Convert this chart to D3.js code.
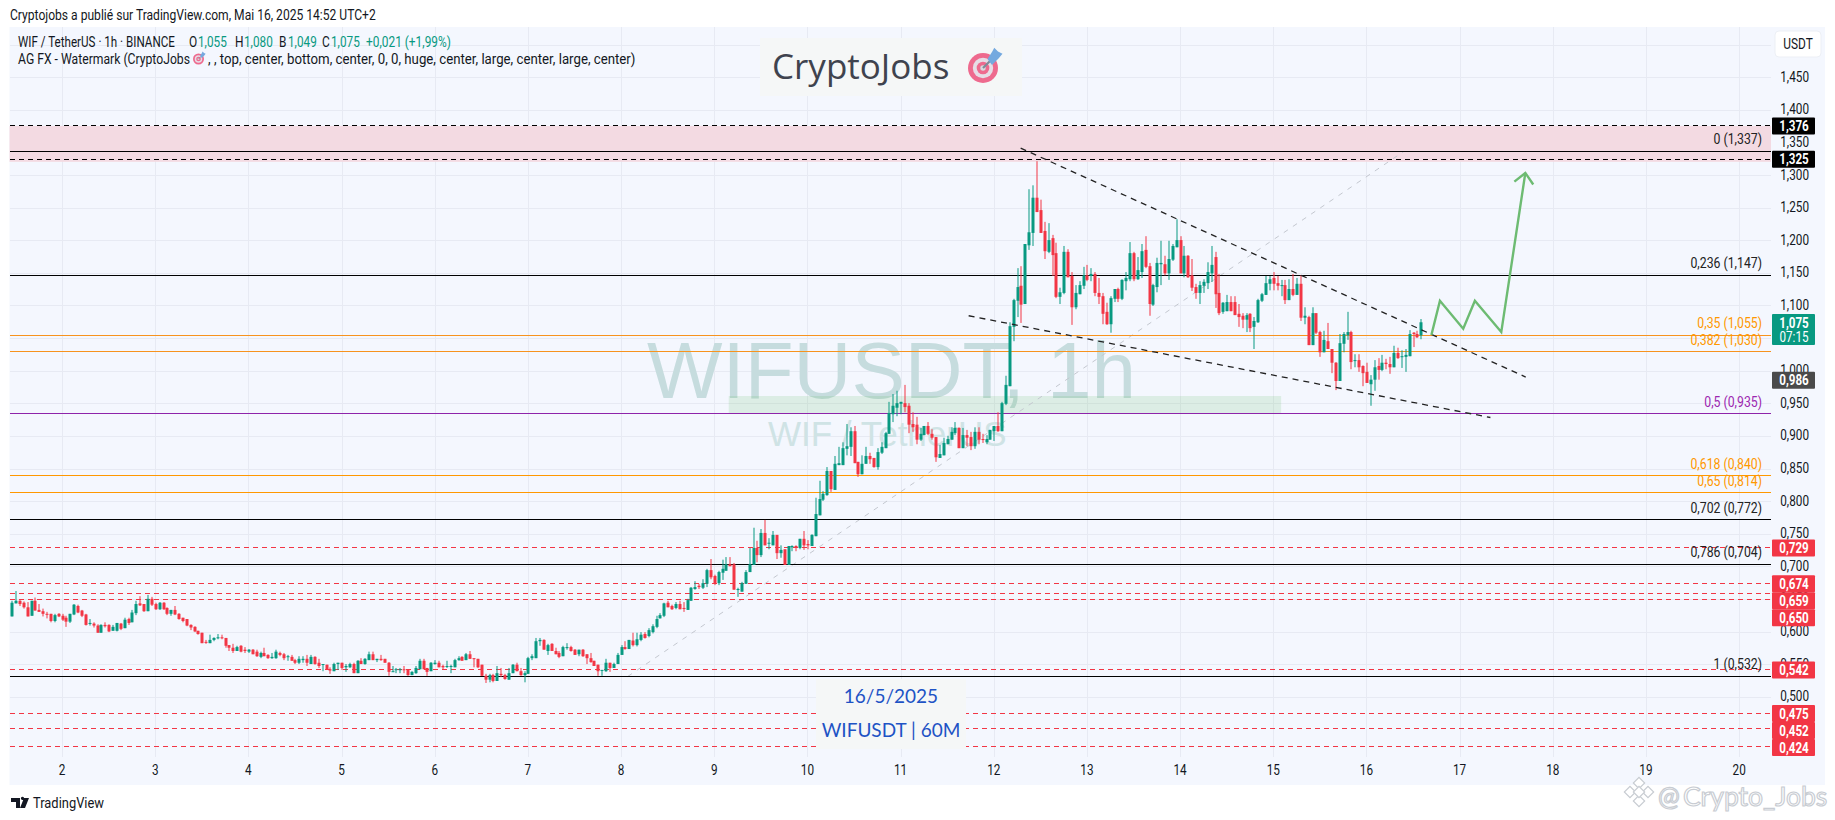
<!DOCTYPE html>
<html>
<head>
<meta charset="utf-8">
<style>
  html, body { margin: 0; padding: 0; background: #fff; }
  svg { display: block; }
  text { font-family: Roboto, sans-serif; }
</style>
<script src="https://cdn.jsdelivr.net/npm/d3@7"></script>
</head>
<body>
<svg id="chart" width="1835" height="820"></svg>
<script>
// One candle per hour, the first bar is index 0 (1 May 11:00)
const opens = [
.624,.644,.648,.645,.638,.625,.648,.634,.632,.628,
.628,.617,.628,.625,.622,.616,.627,.640,.633,.627,
.613,.613,.610,.599,.611,.611,.602,.602,.613,.606,
.620,.615,.629,.644,.643,.632,.651,.643,.635,.645,
.637,.628,.634,.628,.622,.620,.611,.608,.602,.599,
.585,.583,.588,.591,.592,.591,.580,.576,.571,.579,
.573,.570,.573,.570,.562,.568,.565,.560,.560,.568,
.566,.562,.562,.557,.553,.557,.559,.551,.562,.553,
.550,.550,.543,.540,.551,.553,.546,.546,.551,.537,
.556,.551,.557,.566,.557,.559,.559,.553,.539,.542,
.542,.543,.542,.534,.537,.543,.556,.545,.540,.551,
.553,.548,.547,.547,.546,.557,.562,.557,.566,.560,
.559,.550,.533,.527,.534,.525,.536,.534,.527,.537,
.550,.540,.534,.536,.560,.560,.586,.588,.571,.582,
.571,.568,.563,.576,.577,.573,.566,.573,.566,.560,
.556,.550,.541,.540,.553,.545,.551,.565,.577,.574,
.587,.580,.588,.597,.594,.600,.608,.621,.625,.645,
.640,.637,.643,.637,.634,.648,.666,.671,.668,.674,
.695,.686,.675,.691,.694,.704,.704,.665,.662,.674,
.692,.703,.729,.718,.752,.736,.733,.749,.721,.727,
.703,.730,.732,.729,.743,.735,.732,.747,.779,.803,
.810,.847,.818,.856,.856,.881,.884,.908,.861,.842,
.858,.870,.867,.853,.875,.882,.904,.934,.944,.950,
.951,.947,.919,.918,.895,.902,.916,.904,.899,.867,
.871,.888,.895,.905,.913,.882,.902,.899,.885,.907,
.896,.891,.895,.908,.916,.908,.950,.977,1.068,1.108,
1.131,1.103,1.193,1.212,1.266,1.247,1.215,1.183,1.204,1.181,
1.114,1.120,1.183,1.146,1.098,1.118,1.131,1.147,1.146,1.149,
1.120,1.115,1.091,1.072,1.111,1.126,1.111,1.138,1.141,1.181,
1.141,1.152,1.186,1.161,1.102,1.129,1.164,1.164,1.150,1.171,
1.190,1.201,1.150,1.177,1.147,1.129,1.120,1.131,1.135,1.150,
1.175,1.120,1.091,1.092,1.106,1.106,1.088,1.085,1.079,1.088,
1.068,1.075,1.108,1.117,1.134,1.143,1.135,1.131,1.132,1.109,
1.126,1.117,1.134,1.082,1.083,1.040,1.089,1.060,1.029,1.046,
1.034,1.013,.985,1.042,1.055,1.060,1.016,1.017,1.008,.999,
.980,.987,1.008,1.002,1.013,1.011,1.006,1.028,1.022,1.022,
1.023,1.059,1.057,1.055
];
const highs = [
.648,.663,.649,.647,.646,.648,.653,.643,.636,.631,
.628,.628,.629,.628,.625,.628,.643,.642,.634,.628,
.620,.615,.612,.612,.615,.612,.611,.614,.614,.622,
.622,.634,.648,.655,.643,.657,.654,.645,.646,.646,
.638,.634,.640,.629,.622,.620,.612,.609,.602,.599,
.588,.596,.592,.597,.596,.591,.580,.582,.579,.580,
.577,.574,.574,.573,.570,.576,.566,.568,.573,.570,
.568,.565,.565,.559,.563,.563,.565,.565,.563,.559,
.551,.550,.546,.553,.553,.553,.551,.553,.553,.557,
.560,.560,.570,.570,.559,.565,.559,.554,.548,.545,
.545,.548,.543,.540,.548,.559,.559,.545,.554,.557,
.556,.550,.556,.550,.559,.563,.563,.568,.571,.560,
.559,.550,.536,.536,.536,.548,.545,.536,.545,.551,
.553,.545,.540,.562,.566,.591,.591,.589,.582,.583,
.576,.571,.579,.583,.579,.574,.573,.574,.566,.568,
.556,.550,.542,.559,.553,.553,.568,.580,.586,.588,
.599,.599,.600,.600,.606,.612,.625,.629,.645,.648,
.642,.646,.648,.646,.651,.669,.678,.674,.681,.697,
.712,.688,.694,.711,.715,.715,.706,.668,.677,.695,
.729,.760,.740,.758,.772,.744,.755,.749,.733,.727,
.732,.733,.733,.743,.755,.741,.750,.806,.832,.816,
.853,.847,.870,.884,.891,.919,.914,.916,.861,.871,
.884,.875,.867,.882,.891,.907,.953,.965,.970,.953,
.979,.951,.937,.930,.913,.916,.922,.911,.899,.887,
.898,.901,.914,.922,.914,.913,.910,.907,.914,.914,
.904,.902,.910,.916,.937,.953,.993,1.075,1.111,1.158,
1.161,1.195,1.279,1.285,1.322,1.263,1.229,1.227,1.209,1.197,
1.128,1.192,1.187,1.152,1.132,1.138,1.160,1.163,1.158,1.152,
1.143,1.120,1.105,1.115,1.126,1.128,1.141,1.152,1.198,1.183,
1.175,1.195,1.207,1.166,1.134,1.174,1.200,1.177,1.200,1.195,
1.233,1.207,1.192,1.178,1.172,1.134,1.138,1.141,1.167,1.192,
1.183,1.149,1.106,1.117,1.115,1.115,1.103,1.089,1.089,1.089,
1.083,1.111,1.120,1.146,1.146,1.152,1.146,1.140,1.140,1.141,
1.149,1.143,1.147,1.098,1.085,1.098,1.089,1.062,1.062,1.074,
1.034,1.014,1.057,1.060,1.091,1.062,1.026,1.026,1.009,1.013,
.994,1.017,1.020,1.025,1.019,1.022,1.039,1.036,1.032,1.034,
1.063,1.060,1.062,1.080
];
const lows = [
.624,.644,.640,.636,.624,.625,.633,.631,.624,.621,
.615,.615,.623,.617,.608,.614,.626,.629,.623,.610,
.610,.607,.599,.599,.607,.600,.602,.601,.603,.606,
.611,.615,.626,.640,.631,.632,.640,.634,.634,.634,
.626,.625,.626,.619,.615,.609,.603,.600,.596,.583,
.582,.583,.586,.589,.589,.576,.571,.568,.571,.569,
.568,.568,.566,.562,.560,.563,.559,.559,.559,.563,
.557,.556,.556,.551,.551,.553,.548,.551,.550,.545,
.540,.542,.536,.540,.542,.542,.539,.545,.537,.537,
.551,.550,.557,.557,.554,.556,.553,.533,.539,.537,
.537,.537,.533,.534,.536,.543,.543,.533,.540,.550,
.546,.543,.545,.537,.546,.556,.556,.557,.559,.546,
.545,.533,.522,.523,.523,.525,.531,.527,.527,.537,
.540,.533,.523,.536,.557,.560,.579,.573,.565,.571,
.566,.560,.563,.573,.570,.565,.563,.562,.551,.553,
.548,.533,.533,.539,.539,.545,.551,.565,.573,.574,
.578,.578,.586,.590,.592,.598,.606,.621,.623,.638,
.634,.635,.635,.631,.634,.648,.665,.666,.666,.669,
.681,.672,.672,.680,.694,.701,.665,.654,.662,.674,
.692,.703,.707,.715,.733,.727,.733,.712,.714,.703,
.703,.724,.724,.727,.726,.727,.732,.747,.779,.801,
.809,.815,.818,.856,.856,.871,.870,.859,.838,.842,
.858,.858,.852,.849,.873,.882,.904,.922,.931,.934,
.937,.905,.907,.888,.893,.902,.902,.895,.861,.867,
.871,.888,.895,.902,.882,.882,.885,.879,.881,.888,
.890,.888,.895,.893,.907,.908,.948,.977,1.046,1.083,
1.074,1.103,1.186,1.192,1.244,1.212,1.172,1.181,1.146,1.112,
1.103,1.118,1.144,1.071,1.095,1.118,1.126,1.138,1.138,1.115,
1.103,1.072,1.071,1.059,1.106,1.106,1.109,1.124,1.138,1.138,
1.140,1.143,1.158,1.085,1.100,1.121,1.132,1.147,1.140,1.169,
1.190,1.150,1.144,1.143,1.123,1.111,1.103,1.120,1.126,1.137,
1.097,1.086,1.088,1.092,1.092,1.086,1.068,1.066,1.060,1.060,
1.034,1.074,1.106,1.117,1.124,1.124,1.124,1.115,1.103,1.109,
1.115,1.117,1.077,1.072,1.040,1.040,1.057,1.022,1.029,1.034,
.997,.971,.985,1.029,1.048,1.003,1.006,.999,.977,.982,
.947,.970,.987,1.000,1.003,.996,1.006,1.019,1.005,.999,
1.023,1.037,1.051,1.049
];
const closes = [
.645,.648,.643,.638,.624,.648,.633,.631,.628,.627,
.617,.626,.624,.619,.616,.628,.642,.630,.625,.611,
.614,.610,.599,.611,.609,.601,.608,.614,.605,.619,
.614,.630,.643,.641,.632,.651,.642,.635,.645,.635,
.628,.634,.627,.620,.617,.610,.607,.601,.597,.583,
.584,.588,.591,.592,.591,.579,.576,.571,.577,.570,
.571,.573,.566,.563,.568,.563,.560,.562,.570,.565,
.560,.563,.556,.553,.559,.559,.553,.562,.551,.548,
.551,.542,.541,.551,.553,.545,.548,.551,.537,.556,
.551,.559,.566,.557,.559,.557,.553,.539,.540,.543,
.543,.542,.534,.539,.545,.556,.543,.539,.553,.553,
.546,.546,.548,.548,.557,.560,.556,.566,.559,.559,
.546,.533,.527,.534,.525,.537,.534,.528,.537,.550,
.540,.534,.537,.560,.563,.586,.588,.573,.580,.571,
.566,.562,.577,.577,.571,.565,.573,.563,.560,.554,
.548,.540,.542,.553,.545,.551,.565,.577,.574,.588,
.580,.589,.596,.591,.603,.609,.620,.626,.644,.638,
.635,.643,.635,.636,.649,.668,.669,.669,.675,.695,
.684,.675,.692,.697,.704,.701,.665,.666,.675,.692,
.704,.729,.718,.752,.733,.737,.749,.721,.726,.703,
.732,.732,.730,.743,.733,.733,.749,.781,.804,.812,
.847,.819,.858,.859,.882,.885,.908,.859,.842,.858,
.870,.865,.853,.876,.884,.905,.936,.947,.951,.953,
.945,.918,.914,.895,.904,.916,.904,.898,.868,.873,
.890,.896,.907,.913,.882,.902,.898,.885,.907,.895,
.895,.896,.910,.916,.908,.951,.979,1.069,1.109,1.129,
1.102,1.195,1.213,1.266,1.244,1.212,1.184,1.201,1.178,1.114,
1.121,1.183,1.144,1.098,1.120,1.132,1.147,1.140,1.149,1.120,
1.114,1.088,1.072,1.112,1.126,1.111,1.140,1.143,1.181,1.141,
1.155,1.184,1.160,1.103,1.132,1.166,1.166,1.150,1.172,1.192,
1.201,1.150,1.177,1.144,1.128,1.120,1.132,1.137,1.152,1.163,
1.118,1.089,1.105,1.106,1.092,1.086,1.083,1.079,1.086,1.066,
1.077,1.109,1.118,1.135,1.141,1.134,1.131,1.132,1.109,1.126,
1.117,1.134,1.082,1.085,1.040,1.089,1.059,1.029,1.048,1.034,
1.013,.985,1.043,1.057,1.060,1.014,1.017,1.006,.997,.982,
.987,1.006,1.002,1.013,1.011,1.006,1.028,1.020,1.023,1.025,
1.057,1.057,1.052,1.075
];

const firstBarHour = 11;               // hours after 1 May 00:00
const dayNumbers = [2,3,4,5,6,7,8,9,10,11,12,13,14,15,16,17,18,19,20];
const priceTicks = [1.45,1.40,1.35,1.30,1.25,1.20,1.15,1.10,1.05,1.00,.95,.90,.85,.80,.75,.70,.65,.60,.55,.50];
const gridPrices = [1.50].concat(priceTicks);

// Fibonacci retracement levels
const fibRatios = ["0","0,236","0,35","0,382","0,5","0,618","0,65","0,702","0,786","1"];
const fibPrices = [1.337,1.147,1.055,1.030,.935,.840,.814,.772,.704,.532];
const fibColors = ["#000","#000","#f7931e","#f7931e","#8e24aa","#ff9800","#ff9800","#000","#000","#000"];
const fibTextColors = ["#222","#222","#ff9800","#ff9800","#9c27b0","#ff9800","#ff9800","#222","#222","#222"];

// Horizontal rays with a label on the price axis
const blackLevels = [1.376,1.325];
const redLevels = [.729,.674,.659,.650,.542,.475,.452,.424];

// Drawings, in bar index and price
const zonePrices = [1.376,1.321];
const supportZonePrices = [.962,.935];
const supportZoneBars = [184.6,326.9];
const fibLineBars = [158.6,358.5];
const fibLinePrices = [.532,1.337];
const upperWedgeBars = [259.8,389.9];
const upperWedgePrices = [1.342,.991];
const lowerWedgeBars = [246.4,380.8];
const lowerWedgePrices = [1.085,.929];
const projectionBars = [365.6,367.8,373.8,376.8,383.6,389.8];
const projectionPrices = [1.0555,1.108,1.065,1.108,1.060,1.304];

const plot = { left: 9.5, right: 1771, top: 27, bottom: 757, panelRight: 1825, panelBottom: 785 };
const green = "#089981", red = "#f23645", ink = "#131722";
const small = "14px";

const svg = d3.select("#chart");

// 93.17 px per day, the last bar sits near 1421
const x = d3.scaleLinear().domain([0, 363]).range([12.1, 1421.3]);
const y = d3.scaleLinear().domain([.5, 1.45]).range([697.3, 77.7]);
const dayToBar = d => (d - 1) * 24 - firstBarHour;
const comma = d => d3.format(".3f")(d).replace(".", ",");

// The original font is tall and narrow, squeeze the glyphs sideways
function squeeze(selection, k) {
    selection.each(function () {
        this.setAttribute("textLength", this.getComputedTextLength() * k);
        this.setAttribute("lengthAdjust", "spacingAndGlyphs");
    });
    return selection;
}

// Small text helper
function label(str, px, py, fill, k) {
    return squeeze(svg.append("text").text(str)
        .attr("x", px).attr("y", py)
        .style("font-size", small).attr("fill", fill), k);
}

// Panel
svg.append("rect")
    .attr("x", plot.left).attr("y", plot.top)
    .attr("width", plot.panelRight - plot.left).attr("height", plot.panelBottom - plot.top)
    .attr("fill", "#f4f7fe");

// Grid
svg.append("g").attr("shape-rendering", "crispEdges").selectAll("line").data(gridPrices).enter().append("line")
    .attr("x1", plot.left).attr("x2", plot.right)
    .attr("y1", d => y(d)).attr("y2", d => y(d))
    .attr("stroke", "#e7eaf3").attr("stroke-width", 1);
svg.append("g").attr("shape-rendering", "crispEdges").selectAll("line").data(dayNumbers).enter().append("line")
    .attr("x1", d => x(dayToBar(d))).attr("x2", d => x(dayToBar(d)))
    .attr("y1", plot.top).attr("y2", plot.bottom)
    .attr("stroke", "#e7eaf3").attr("stroke-width", 1);

// Watermarks behind the candles
svg.append("text").text("WIFUSDT, 1h")
    .attr("x", 647).attr("y", 398)
    .style("font-family", "'Liberation Sans', Arial, sans-serif")
    .style("font-size", "80px").attr("fill", "#c6dcde");
svg.append("text").text("WIF / TetherUS")
    .attr("x", 768).attr("y", 446)
    .style("font-family", "'Liberation Sans', Arial, sans-serif")
    .style("font-size", "35px").attr("fill", "#cfe3e5");

// Zones
svg.append("rect")
    .attr("x", plot.left).attr("width", plot.right - plot.left)
    .attr("y", y(zonePrices[0])).attr("height", y(zonePrices[1]) - y(zonePrices[0]))
    .attr("fill", "#f3dae2");
svg.append("rect")
    .attr("x", x(supportZoneBars[0])).attr("width", x(supportZoneBars[1]) - x(supportZoneBars[0]))
    .attr("y", y(supportZonePrices[0])).attr("height", y(supportZonePrices[1]) - y(supportZonePrices[0]))
    .attr("fill", "#4caf50").attr("fill-opacity", 0.14);

// Fib anchor line
svg.append("line")
    .attr("x1", x(fibLineBars[0])).attr("x2", x(fibLineBars[1]))
    .attr("y1", y(fibLinePrices[0])).attr("y2", y(fibLinePrices[1]))
    .attr("stroke", "#c4c8d0").attr("stroke-width", 1).attr("stroke-dasharray", "5 6");

// Horizontal levels
let levels = svg.append("g").attr("shape-rendering", "crispEdges");
levels.append("g").selectAll("line").data(redLevels).enter().append("line")
    .attr("x1", plot.left).attr("x2", plot.right)
    .attr("y1", d => y(d)).attr("y2", d => y(d))
    .attr("stroke", red).attr("stroke-width", 1).attr("stroke-dasharray", "5 4");
levels.append("g").selectAll("line").data(fibPrices).enter().append("line")
    .attr("x1", plot.left).attr("x2", plot.right)
    .attr("y1", d => y(d)).attr("y2", d => y(d))
    .attr("stroke", (d, i) => fibColors[i]).attr("stroke-width", 1);
levels.append("g").selectAll("line").data(blackLevels).enter().append("line")
    .attr("x1", plot.left).attr("x2", plot.right)
    .attr("y1", d => y(d)).attr("y2", d => y(d))
    .attr("stroke", "#000").attr("stroke-width", 1).attr("stroke-dasharray", "5 4");

// Candles
let candles = svg.append("g").selectAll("g").data(opens).enter().append("g")
    .attr("fill", (d, i) => closes[i] >= d ? green : red);
candles.append("rect")
    .attr("x", (d, i) => Math.round(x(i)) - 0.5)
    .attr("width", 1)
    .attr("y", (d, i) => y(highs[i]))
    .attr("height", (d, i) => y(lows[i]) - y(highs[i]));
candles.append("rect")
    .attr("x", (d, i) => Math.round(x(i)) - 1.5)
    .attr("width", 3)
    .attr("y", (d, i) => y(Math.max(d, closes[i])))
    .attr("height", (d, i) => Math.max(1, Math.abs(y(d) - y(closes[i]))));

// Wedge
function dashedTrend(bars, prices) {
    svg.append("line")
        .attr("x1", x(bars[0])).attr("x2", x(bars[1]))
        .attr("y1", y(prices[0])).attr("y2", y(prices[1]))
        .attr("stroke", "#222").attr("stroke-width", 1.3).attr("stroke-dasharray", "6 5");
}
dashedTrend(upperWedgeBars, upperWedgePrices);
dashedTrend(lowerWedgeBars, lowerWedgePrices);

// Projection path and its arrow head
let projection = projectionBars.map((b, i) => [x(b), y(projectionPrices[i])]);
svg.append("path")
    .attr("d", d3.line()(projection))
    .attr("fill", "none").attr("stroke", "#6dbb72").attr("stroke-width", 2.4);
let tip = projection[projection.length - 1], prev = projection[projection.length - 2];
let angle = Math.atan2(tip[1] - prev[1], tip[0] - prev[0]);
svg.append("path")
    .attr("d", d3.line()([
        [tip[0] - 14 * Math.cos(angle - 0.75), tip[1] - 14 * Math.sin(angle - 0.75)],
        tip,
        [tip[0] - 14 * Math.cos(angle + 0.75), tip[1] - 14 * Math.sin(angle + 0.75)]
    ]))
    .attr("fill", "none").attr("stroke", "#6dbb72").attr("stroke-width", 2.4);

// Fib labels
squeeze(svg.append("g").selectAll("text").data(fibPrices).enter().append("text")
    .attr("x", 1762).attr("y", d => y(d) - 7)
    .attr("text-anchor", "end")
    .style("font-size", small)
    .attr("fill", (d, i) => fibTextColors[i])
    .text((d, i) => fibRatios[i] + " (" + comma(d) + ")"), .877);

// Price axis
let yAxis = svg.append("g")
    .attr("transform", "translate(1809,-1)")
    .call(d3.axisLeft(y).tickValues(priceTicks).tickSize(0).tickPadding(0).tickFormat(comma));
yAxis.select(".domain").remove();
squeeze(yAxis.selectAll("text").style("font-size", small)
    .style("font-family", "Roboto, sans-serif").attr("fill", ink), .84);

// Time axis
let xAxis = svg.append("g")
    .attr("transform", "translate(-1,765)")
    .call(d3.axisBottom(x).tickValues(dayNumbers.map(dayToBar)).tickSize(0).tickPadding(0)
        .tickFormat(d => (d + firstBarHour) / 24 + 1));
xAxis.select(".domain").remove();
squeeze(xAxis.selectAll("text").style("font-size", small)
    .style("font-family", "Roboto, sans-serif").attr("fill", ink), .84);

// Price axis badges, stacked when they would overlap
function badge(centre, fill, lines, h) {
    svg.append("rect")
        .attr("x", 1772).attr("y", centre - h / 2).attr("width", 43).attr("height", h)
        .attr("rx", 1).attr("fill", fill);
    lines.forEach(function (t, i) {
        squeeze(svg.append("text").text(t)
            .attr("x", 1794).attr("y", centre + (i - (lines.length - 1) / 2) * 14 + 5)
            .attr("text-anchor", "middle")
            .style("font-size", small).style("font-weight", i === 0 ? 700 : 400)
            .attr("fill", "#fff"), .83);
    });
}
blackLevels.forEach(d => badge(y(d), "#000", [comma(d)], 17));
let lastBadge = -Infinity;
redLevels.forEach(function (d) {
    lastBadge = Math.max(y(d), lastBadge + 17);
    badge(lastBadge, red, [comma(d)], 17);
});
badge(329.5, green, [comma(closes[closes.length - 1]), "07:15"], 31);
badge(y(.986), "#4a4a4a", ["0,986"], 17);

// USDT button
svg.append("rect")
    .attr("x", 1775).attr("y", 31).attr("width", 46).attr("height", 26).attr("rx", 4)
    .attr("fill", "#fff").attr("stroke", "#eceff5");
label("USDT", 1798, 49, ink, .85).attr("text-anchor", "middle");

// Published line and legend
label("Cryptojobs a publié sur TradingView.com, Mai 16, 2025 14:52 UTC+2", 10, 20, ink, .863);

label("WIF / TetherUS · 1h · BINANCE", 18, 47, ink, .83);
const legendNames = ["O","H","B","C"];
const legendValues = ["1,055","1,080","1,049","1,075"];
const legendNameX = [189,235,279,322];
legendNames.forEach(function (n, i) {
    label(n, legendNameX[i], 47, ink, .85);
    label(legendValues[i], legendNameX[i] + 9, 47, green, .84);
});
label("+0,021 (+1,99%)", 366, 47, green, .85);

label("AG FX - Watermark (CryptoJobs", 18, 64, ink, .87);
label(", , top, center, bottom, center, 0, 0, huge, center, large, center, large, center)", 208, 64, ink, .945);

function target(cx, cy, r) {
    [[1, "#ee6a8e"], [.68, "#e6dde6"], [.42, "#ee6a8e"], [.18, "#d9d9de"]].forEach(function (c) {
        svg.append("circle").attr("cx", cx).attr("cy", cy).attr("r", r * c[0]).attr("fill", c[1]);
    });
    svg.append("line")
        .attr("x1", cx).attr("y1", cy).attr("x2", cx + r * .9).attr("y2", cy - r * .9)
        .attr("stroke", "#7e8b99").attr("stroke-width", r * .14);
    svg.append("path")
        .attr("d", d3.line()([
            [cx + r * .3, cy - r * .6], [cx + r * .62, cy - r * 1.1], [cx + r * .75, cy - r * 1.35],
            [cx + r * 1, cy - r * 1.1], [cx + r * 1.3, cy - r * .95], [cx + r * 1.05, cy - r * .65],
            [cx + r * .6, cy - r * .2]
        ]))
        .attr("fill", "#74a9df");
}
target(198.5, 59, 5.5);

// Big title
svg.append("rect")
    .attr("x", 760).attr("y", 38).attr("width", 262).attr("height", 58).attr("fill", "#f5f7f7");
svg.append("text").text("CryptoJobs")
    .attr("x", 772).attr("y", 79)
    .style("font-family", "'Open Sans', sans-serif").style("font-size", "35px").attr("fill", "#3f434e");
target(983, 68, 15);

// Date and symbol box
svg.append("rect")
    .attr("x", 816).attr("y", 679).attr("width", 150).attr("height", 70).attr("fill", "#f5f7f7");
svg.append("text").text("16/5/2025")
    .attr("x", 891).attr("y", 703).attr("text-anchor", "middle")
    .style("font-family", "Lato, sans-serif").style("font-size", "19px").attr("fill", "#1e53c5");
svg.append("text").text("WIFUSDT | 60M")
    .attr("x", 891).attr("y", 737).attr("text-anchor", "middle")
    .style("font-family", "Lato, sans-serif").style("font-size", "19px").attr("fill", "#1e53c5");

// Footer logo
svg.append("path")
    .attr("d", "M11 798h9v10h-4v-6h-5zM20 808l4-10h5l-4 10zM22.5 800a1.6 1.6 0 1 1 0.01 0")
    .attr("fill", "#131722");
squeeze(svg.append("text").text("TradingView")
    .attr("x", 33).attr("y", 808).style("font-size", "15px").attr("fill", "#131722"), .86);

// Repost mark, bottom right
let mark = svg.append("g").attr("fill", "#fff").attr("stroke", "#c8ccd2").attr("stroke-width", 1.2);
[[1639,783],[1630,792],[1648,792],[1639,801],[1639,792]].forEach(function (p) {
    mark.append("rect")
        .attr("x", p[0] - 4).attr("y", p[1] - 4).attr("width", 8).attr("height", 8)
        .attr("transform", "rotate(45 " + p[0] + " " + p[1] + ")");
});
mark.append("text").text("@")
    .attr("x", 1658).attr("y", 806).style("font-family", "Lato, sans-serif").style("font-size", "26px");
mark.append("text").text("Crypto_Jobs")
    .attr("x", 1683).attr("y", 806).style("font-family", "Lato, sans-serif").style("font-size", "26.5px");
</script>
</body>
</html>
